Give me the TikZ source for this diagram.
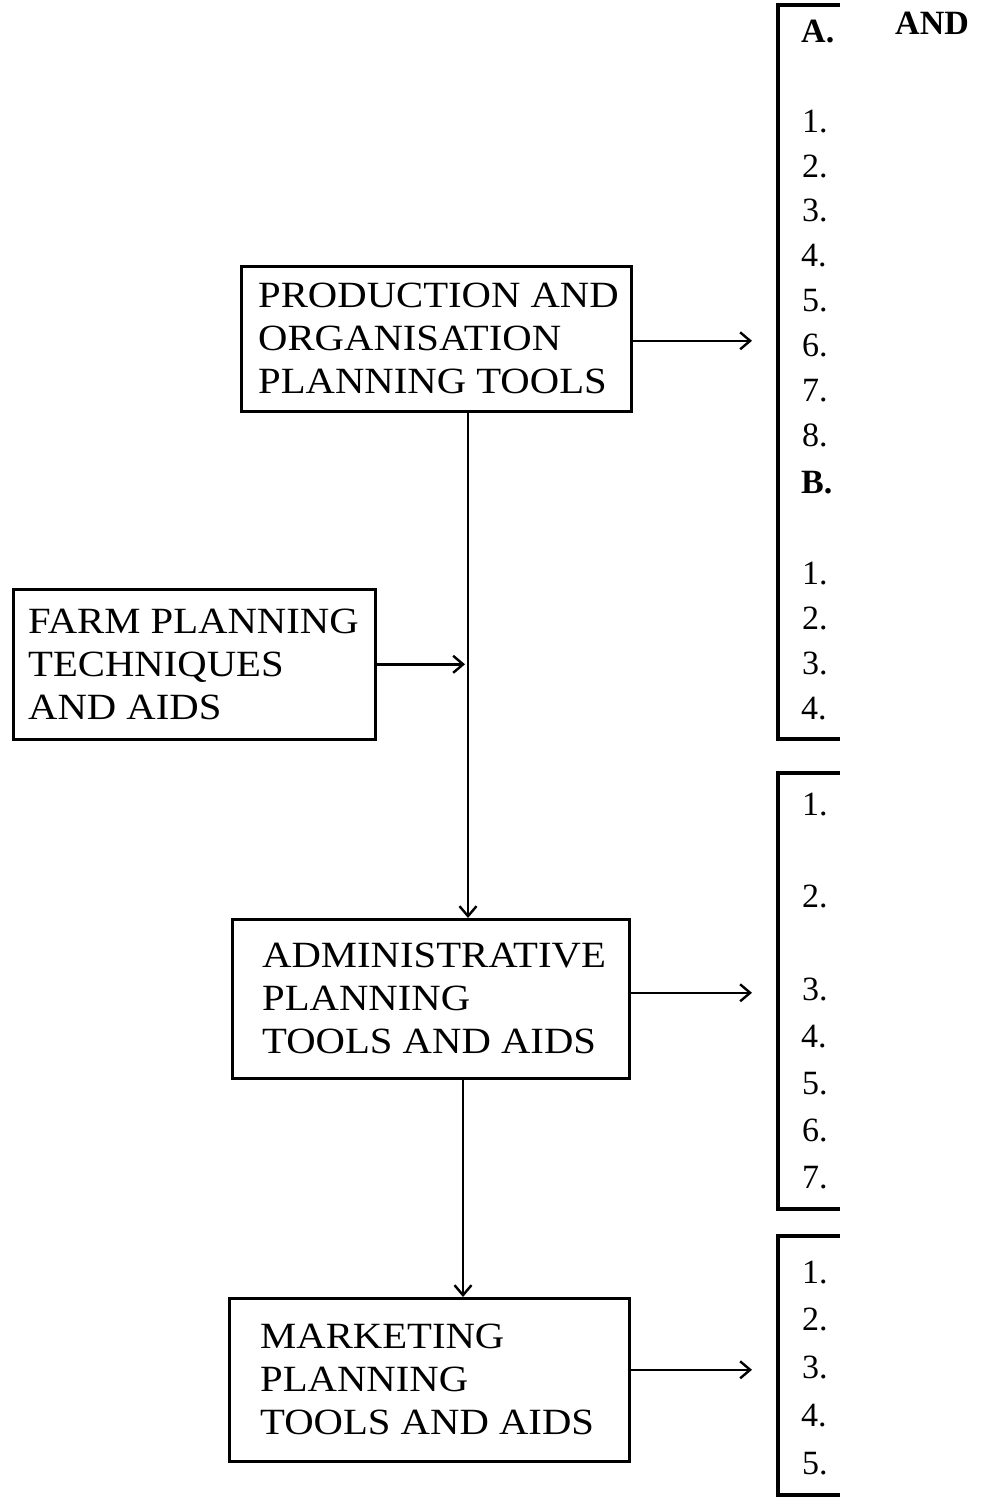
\documentclass[tikz,border=0pt]{standalone}
\usepackage{fontspec}
\setmainfont{Liberation Serif}
\newfontfamily\boxfont{Liberation Serif}[FakeStretch=1.1]
\usetikzlibrary{arrows.meta}
\begin{document}
\begin{tikzpicture}[x=1pt,y=-1pt,
  flowbox/.style={draw, line width=2.6pt, inner sep=0pt, anchor=north west},
  boxtext/.style={anchor=west, inner sep=0pt, align=left, font=\boxfont\fontsize{37}{43}\selectfont},
  arr/.style={line width=2.4pt, -{Straight Barb[length=10pt,width=17pt,line width=2.4pt]}},
  bracket/.style={line width=3.2pt},
  num/.style={anchor=base west, inner sep=0pt, font=\fontsize{34}{38}\selectfont},
  bnum/.style={anchor=base west, inner sep=0pt, font=\bfseries\fontsize{34}{38}\selectfont}]
\useasboundingbox[fill=white] (0,0) rectangle (980,1498);

% left boxes
\node[flowbox, minimum width=390pt, minimum height=145pt] (P) at (240,265) {};
\node[boxtext] (Pt) at ([xshift=18pt]P.west) {PRODUCTION AND\\ORGANISATION\\PLANNING TOOLS};
\node[flowbox, minimum width=362pt, minimum height=150pt] (F) at (12,588) {};
\node[boxtext] (Ft) at ([xshift=16pt]F.west) {FARM PLANNING\\TECHNIQUES\\AND AIDS};
\node[flowbox, minimum width=397pt, minimum height=159pt] (A) at (231,918) {};
\node[boxtext] (At) at ([xshift=31pt]A.west) {ADMINISTRATIVE\\PLANNING\\TOOLS AND AIDS};
\node[flowbox, minimum width=400pt, minimum height=163pt] (M) at (228,1297) {};
\node[boxtext] (Mt) at ([xshift=32pt]M.west) {MARKETING\\PLANNING\\TOOLS AND AIDS};

% helper coordinates
\coordinate (vx) at (468,0);
\coordinate (vx2) at (463,0);
\coordinate (tip) at (752,0);

% connectors
\draw[arr] ([yshift=-2pt]P.east) -- ([yshift=-2pt]P.east -| tip);
\draw[arr] ([yshift=6pt]A.east) -- ([yshift=6pt]A.east -| tip);
\draw[arr] ([yshift=10pt]M.east) -- ([yshift=10pt]M.east -| tip);
\draw[arr] (P.south -| vx) -- (A.north -| vx);
\draw[arr] (F.east) -- ([xshift=-3pt]F.east -| vx);
\draw[arr] (A.south -| vx2) -- (M.north -| vx2);

% right (cut-off) boxes
\draw[bracket] (840,5) -- (778,5) -- (778,739) -- (840,739);
\draw[bracket] (840,773) -- (778,773) -- (778,1209) -- (840,1209);
\draw[bracket] (840,1236) -- (778,1236) -- (778,1495) -- (840,1495);

% texts in the right boxes
\node[bnum] (hA) at (801,43) {A.};
\node[bnum] (hAND) at (895,35) {AND};
\node[num] (a1) at (802,133) {1.};
\node[num] (a2) at (802,178) {2.};
\node[num] (a3) at (802,222) {3.};
\node[num] (a4) at (801,266) {4.};
\node[num] (a5) at (802,311) {5.};
\node[num] (a6) at (802,356) {6.};
\node[num] (a7) at (802,401) {7.};
\node[num] (a8) at (802,446) {8.};
\node[bnum] (hB) at (801,493) {B.};
\node[num] (b1) at (802,584) {1.};
\node[num] (b2) at (802,629) {2.};
\node[num] (b3) at (802,674) {3.};
\node[num] (b4) at (801,719) {4.};

\node[num] (c1) at (802,815) {1.};
\node[num] (c2) at (802,907) {2.};
\node[num] (c3) at (802,1000) {3.};
\node[num] (c4) at (801,1047) {4.};
\node[num] (c5) at (802,1094) {5.};
\node[num] (c6) at (802,1141) {6.};
\node[num] (c7) at (802,1188) {7.};

\node[num] (d1) at (802,1283) {1.};
\node[num] (d2) at (802,1330) {2.};
\node[num] (d3) at (802,1378) {3.};
\node[num] (d4) at (801,1426) {4.};
\node[num] (d5) at (802,1474) {5.};
\end{tikzpicture}
\end{document}
